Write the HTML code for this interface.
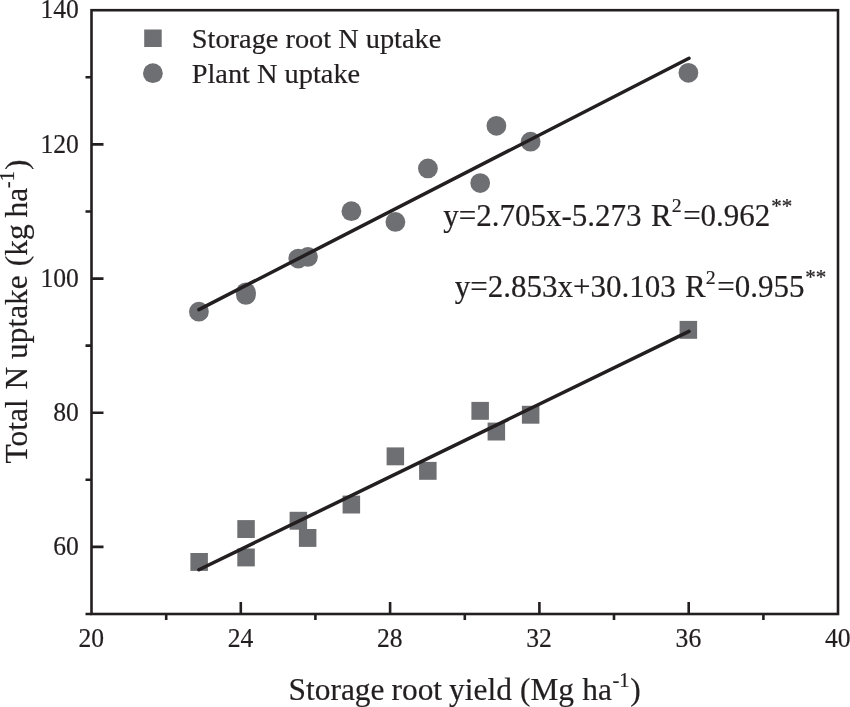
<!DOCTYPE html>
<html lang="en">
<head>
<meta charset="utf-8">
<title>Total N uptake vs storage root yield</title>
<style>
html,body{margin:0;padding:0;background:#fff;}
body{width:850px;height:707px;overflow:hidden;}
svg{display:block;}
svg text{font-family:"Liberation Serif","Times New Roman",serif;fill:#231f20;stroke:#231f20;stroke-width:0.2px;stroke-linejoin:round;}
</style>
</head>
<body>
<svg width="850" height="707" viewBox="0 0 850 707">
<rect x="0" y="0" width="850" height="707" fill="#ffffff"/>
<g fill="#6e6f72">
<rect x="190.4" y="553.0" width="17.5" height="17.9"/>
<rect x="237.3" y="520.1" width="17.5" height="17.9"/>
<rect x="237.3" y="548.5" width="17.5" height="17.9"/>
<rect x="289.6" y="511.8" width="17.5" height="17.9"/>
<rect x="298.9" y="529.0" width="17.5" height="17.9"/>
<rect x="342.6" y="495.6" width="17.5" height="17.9"/>
<rect x="386.6" y="447.4" width="17.5" height="17.9"/>
<rect x="419.1" y="461.9" width="17.5" height="17.9"/>
<rect x="471.4" y="401.9" width="17.5" height="17.9"/>
<rect x="487.6" y="422.6" width="17.5" height="17.9"/>
<rect x="521.9" y="405.8" width="17.5" height="17.9"/>
<rect x="679.6" y="320.9" width="17.5" height="17.9"/>
<circle cx="198.9" cy="311.7" r="9.9"/>
<circle cx="245.9" cy="292.3" r="9.9"/>
<circle cx="245.9" cy="294.9" r="9.9"/>
<circle cx="298.3" cy="258.6" r="9.9"/>
<circle cx="307.9" cy="256.9" r="9.9"/>
<circle cx="351.4" cy="211.2" r="9.9"/>
<circle cx="395.4" cy="221.9" r="9.9"/>
<circle cx="427.9" cy="168.4" r="9.9"/>
<circle cx="480.2" cy="183.1" r="9.9"/>
<circle cx="496.4" cy="125.8" r="9.9"/>
<circle cx="530.6" cy="141.7" r="9.9"/>
<circle cx="688.4" cy="72.8" r="9.9"/>
<rect x="144.2" y="29.5" width="17.5" height="17.5"/>
<circle cx="152.9" cy="73.2" r="9.9"/>
</g>
<g stroke="#231f20" stroke-width="3.5" stroke-linecap="round" fill="none">
<line x1="198.9" y1="309.6" x2="689.0" y2="58.3"/>
<line x1="198.9" y1="569.7" x2="689.0" y2="331.4"/>
</g>
<g stroke="#231f20" stroke-width="2.6" fill="none">
<rect x="91.5" y="10.2" width="746.5" height="603.8"/>
<path d="M240.8 614.0v-12 M390.1 614.0v-12 M539.4 614.0v-12 M688.7 614.0v-12 M166.2 614.0v6 M315.4 614.0v6 M464.8 614.0v6 M614.0 614.0v6 M763.4 614.0v6 M91.5 546.9h12 M91.5 412.7h12 M91.5 278.6h12 M91.5 144.4h12 M91.5 614.0h-6 M91.5 479.8h-6 M91.5 345.6h-6 M91.5 211.5h-6 M91.5 77.3h-6"/>
</g>
<g font-size="25.6" text-anchor="end">
<text transform="translate(78.9 555.0) scale(1 1.04)">60</text>
<text transform="translate(78.9 420.8) scale(1 1.04)">80</text>
<text transform="translate(78.9 286.7) scale(1 1.04)">100</text>
<text transform="translate(78.9 152.5) scale(1 1.04)">120</text>
<text transform="translate(78.9 18.3) scale(1 1.04)">140</text>
</g>
<g font-size="25.6" text-anchor="middle">
<text transform="translate(91.2 646.7) scale(1 1.03)">20</text>
<text transform="translate(240.5 646.7) scale(1 1.03)">24</text>
<text transform="translate(389.8 646.7) scale(1 1.03)">28</text>
<text transform="translate(539.1 646.7) scale(1 1.03)">32</text>
<text transform="translate(688.4 646.7) scale(1 1.03)">36</text>
<text transform="translate(837.7 646.7) scale(1 1.03)">40</text>
</g>
<text x="191.8" y="48" font-size="28.35">Storage root N uptake</text>
<text x="191.7" y="82.6" font-size="28.35">Plant N uptake</text>
<text x="443.3" y="225.6" font-size="31.0">y=2.705x-5.273 <tspan dx="1.7">R</tspan><tspan dy="-13.2" font-size="19.8">2</tspan><tspan dy="13.2" dx="1.5">=0.962</tspan><tspan dy="-12.8" dx="0.8" font-size="21">**</tspan></text>
<text x="454.7" y="297.1" font-size="31.0">y=2.853x+30.103 <tspan dx="1.7">R</tspan><tspan dy="-13.2" font-size="19.8">2</tspan><tspan dy="13.2" dx="1.5">=0.955</tspan><tspan dy="-12.8" dx="0.8" font-size="21">**</tspan></text>
<text transform="translate(288.6 700.4) scale(1 1.03)" word-spacing="-0.8" font-size="31.4">Storage root yield <tspan dx="1">(</tspan>Mg <tspan dx="1.3">h</tspan>a<tspan dy="-13.2" dx="0.5" font-size="20.5">-1</tspan><tspan dy="13.2" dx="0.7">)</tspan></text>
<text transform="translate(26.8 463.4) rotate(-90)" font-size="31.4">Total <tspan dx="2">N</tspan> uptake <tspan dx="1.2">(</tspan>kg <tspan dx="-1">h</tspan>a<tspan dy="-13.2" dx="-0.3" font-size="20.5">-1</tspan><tspan dy="13.2" dx="1.2">)</tspan></text>
</svg>
</body>
</html>
